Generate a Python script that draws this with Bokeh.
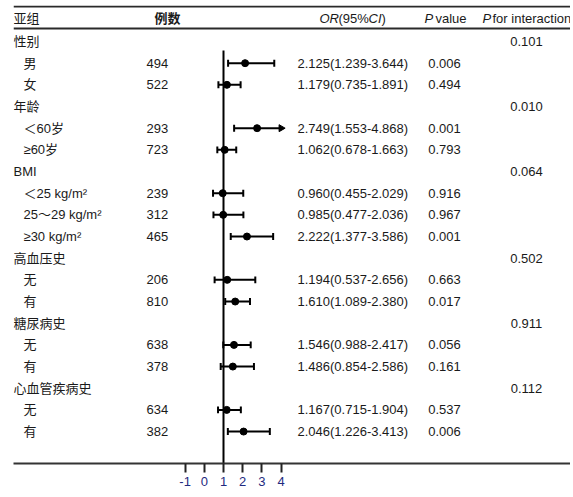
import numpy as np
from bokeh.plotting import figure
from bokeh.models import Range1d, Span, FixedTicker, ColumnDataSource
from bokeh.core.properties import value
from bokeh.embed import file_html
from bokeh.resources import INLINE

# ---------------- data ----------------
labels = ["性别", "男", "女", "年龄", "＜60岁", "≥60岁", "BMI",
          "＜25 kg/m²", "25～29 kg/m²", "≥30 kg/m²", "高血压史", "无", "有",
          "糖尿病史", "无", "有", "心血管疾病史", "无", "有"]
is_group = [1, 0, 0, 1, 0, 0, 1, 0, 0, 0, 1, 0, 0, 1, 0, 0, 1, 0, 0]
counts = ["", "494", "522", "", "293", "723", "", "239", "312", "465", "",
          "206", "810", "", "638", "378", "", "634", "382"]
or_est = [np.nan, 2.125, 1.179, np.nan, 2.749, 1.062, np.nan, 0.960, 0.985, 2.222,
          np.nan, 1.194, 1.610, np.nan, 1.546, 1.486, np.nan, 1.167, 2.046]
ci_lo = [np.nan, 1.239, 0.735, np.nan, 1.553, 0.678, np.nan, 0.455, 0.477, 1.377,
         np.nan, 0.537, 1.089, np.nan, 0.988, 0.854, np.nan, 0.715, 1.226]
ci_hi = [np.nan, 3.644, 1.891, np.nan, 4.868, 1.663, np.nan, 2.029, 2.036, 3.586,
         np.nan, 2.656, 2.380, np.nan, 2.417, 2.586, np.nan, 1.904, 3.413]
p_values = ["", "0.006", "0.494", "", "0.001", "0.793", "", "0.916", "0.967", "0.001",
            "", "0.663", "0.017", "", "0.056", "0.161", "", "0.537", "0.006"]
p_inter = ["0.101", "", "", "0.010", "", "", "0.064", "", "", "", "0.502", "", "",
           "0.911", "", "", "0.112", "", ""]
x_ticks = [-1, 0, 1, 2, 3, 4]
x_tick_labels = {-1: "-1", 0: "0", 1: "1", 2: "2", 3: "3", 4: "4"}
axis_max = 4

# ---------------- layout ----------------
FONT = value("Liberation Sans, Noto Sans CJK SC")
FS = "13px"
TXT = "#1a1a1a"

rows = np.arange(len(labels))
p = figure(width=570, height=495,
           x_range=Range1d(1 - 210 / 19.2, 1 + 347 / 19.2),
           y_range=Range1d(19.474, -1.661),
           output_backend="svg", toolbar_location=None,
           y_axis_location=None,
           min_border_left=13, min_border_right=0, min_border_top=5, min_border_bottom=32)
p.extra_x_ranges = {"px": Range1d(13, 570)}
p.xgrid.visible = False
p.ygrid.visible = False
p.outline_line_color = None
p.background_fill_color = "white"

# horizontal rules
p.add_layout(Span(location=-1.615, dimension="width", line_color="#2a2a2a", line_width=2))
p.add_layout(Span(location=-0.6, dimension="width", line_color="#2a2a2a", line_width=2))

# reference line at OR = 1
p.segment(x0=[1], y0=[0.42], x1=[1], y1=[19.474], line_color="black", line_width=2)

# forest marks
est = np.array(or_est)
lo = np.array(ci_lo)
hi = np.array(ci_hi)
m = ~np.isnan(est)
yy = rows[m]
hi_c = np.minimum(hi[m], axis_max)
clipped = hi[m] > axis_max
src = ColumnDataSource(dict(y=yy, est=est[m], lo=lo[m], hi=hi_c,
                            ylo=yy - 0.16, yhi=yy + 0.16))
p.segment(x0="lo", y0="y", x1="hi", y1="y", source=src, line_color="black", line_width=2)
p.segment(x0="lo", y0="ylo", x1="lo", y1="yhi", source=src, line_color="black", line_width=2)
yc = yy[~clipped]
p.segment(x0=hi_c[~clipped], y0=yc - 0.16, x1=hi_c[~clipped], y1=yc + 0.16,
          line_color="black", line_width=2)
p.scatter(x=hi_c[clipped], y=yy[clipped], marker="triangle", angle=-np.pi / 2,
          size=7, color="black")
p.scatter(x="est", y="y", source=src, size=7, color="black")

# axis
ax = p.xaxis[0]
ax.ticker = FixedTicker(ticks=x_ticks)
ax.major_label_overrides = x_tick_labels
ax.axis_line_width = 2
ax.axis_line_color = "#333333"
ax.major_tick_line_width = 2
ax.major_tick_line_color = "#222222"
ax.major_tick_out = 9
ax.major_tick_in = 0
ax.minor_tick_out = 0
ax.minor_tick_in = 0
ax.major_label_standoff = 4
ax.major_label_text_color = "#1f2a80"
ax.major_label_text_font = "Liberation Sans"
ax.major_label_text_font_size = FS

def txt(x, y, t, align="left", style="normal", color=TXT):
    p.text(x=x, y=y, text=t, x_range_name="px", text_font=FONT, text_font_size=FS,
           text_baseline="middle", text_align=align, text_font_style=style,
           text_color=color)

# header
hy = -1.06
txt([13], [hy], ["亚组"])
txt([167], [hy], ["例数"], align="center", style="bold")
txt([319], [hy], ["OR"], style="italic")
txt([338], [hy], ["(95%"])
txt([368], [hy], ["CI"], style="italic")
txt([381], [hy], [")"])
txt([424], [hy], ["P"], style="italic")
txt([435], [hy], ["value"])
txt([482], [hy], ["P"], style="italic")
txt([492], [hy], ["for interaction"])

# label column
g = np.array(is_group, dtype=bool)
lab = np.array(labels)
txt([13] * int(g.sum()), rows[g], list(lab[g]))
txt([23] * int((~g).sum()), rows[~g], list(lab[~g]))

# counts
cnt = np.array(counts)
cm = cnt != ""
txt([146] * int(cm.sum()), rows[cm], list(cnt[cm]))

# OR text
or_txt = [f"{e:.3f}({l:.3f}-{h:.3f})" for e, l, h in zip(est[m], lo[m], hi[m])]
txt([297] * len(or_txt), yy, or_txt)

# P values
pv = np.array(p_values)
pm = pv != ""
txt([444] * int(pm.sum()), rows[pm], list(pv[pm]), align="center")

pi = np.array(p_inter)
im = pi != ""
txt([526] * int(im.sum()), rows[im], list(pi[im]), align="center")

open("out.html", "w").write(file_html(p, INLINE))
